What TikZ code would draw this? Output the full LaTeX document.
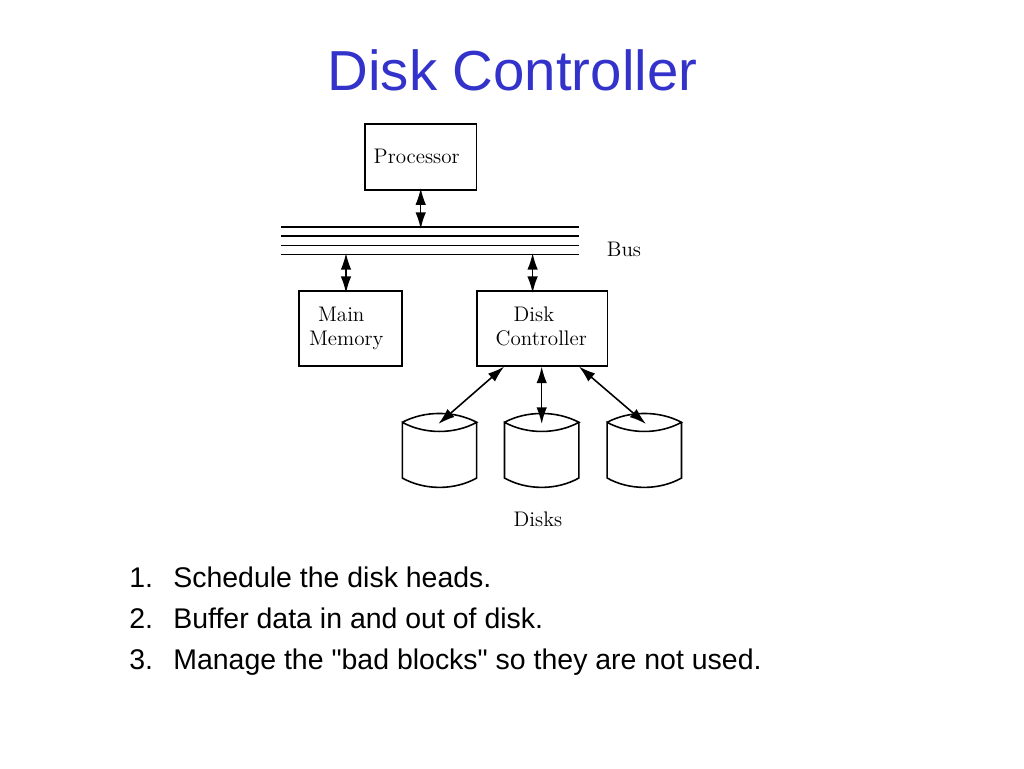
\documentclass[tikz,border=0pt]{standalone}
\usepackage{fontspec}
\usetikzlibrary{arrows.meta}
\newfontfamily\slidefont{Liberation Sans}
\definecolor{titleblue}{RGB}{51,51,204}
\tikzset{
  boxnode/.style={draw,line width=0.9pt,inner xsep=0pt,inner ysep=0pt,align=left,
    font=\fontsize{12}{13.6}\selectfont},
  textlabel/.style={inner sep=0pt,font=\fontsize{12}{13.6}\selectfont},
  itemtext/.style={inner sep=0pt,anchor=base west,font=\slidefont\fontsize{16.2}{18}\selectfont},
  busline/.style={line width=0.9pt},
  dbl/.style={line width=0.9pt,{Latex[length=9.5pt,width=6pt]}-{Latex[length=9.5pt,width=6pt]}},
  overlap/.style={shorten >=-1.5pt}
}
\begin{document}
\begin{tikzpicture}[x=0.02cm,y=0.02cm]
  \useasboundingbox (0,0) rectangle (1024,-768);
  % title
  \node (title) [inner sep=0pt,text=titleblue,font=\slidefont\fontsize{32.1}{36}\selectfont] at (512.5,-70) {Disk Controller};
  % boxes
  \node (proc) [boxnode,text width=2.24cm,minimum height=1.32cm] at (420.7,-157) {\hspace*{0.18cm}\raisebox{1pt}{Processor}};
  \node (mem) [boxnode,text width=2.06cm,minimum height=1.49cm] at (350.5,-328.5) {\hspace*{0.38cm}Main\\\hspace*{0.2cm}Memory};
  \node (ctrl) [boxnode,text width=2.62cm,minimum height=1.49cm] at (542.2,-328.5) {\hspace*{0.74cm}Disk\\\hspace*{0.38cm}Controller\vphantom{y}};
  % bus
  \foreach \n/\y in {a/227,b/236,c/245.3,d/254.7} {
    \coordinate (bus\n w) at (281,-\y);
    \coordinate (bus\n e) at (579,-\y);
    \draw [busline] (bus\n w) -- (bus\n e);
  }
  \node (buslabel) [textlabel] at (624,-249) {Bus};
  \coordinate (tapp) at (420.7,-229);
  \coordinate (tapm) at (346,-253);
  \coordinate (tapc) at (532.6,-253);
  \draw [dbl,shorten <=-1.5pt] (proc.south) -- (tapp);
  \draw [dbl,overlap] (tapm) -- (tapm |- mem.north);
  \draw [dbl,overlap] (tapc) -- (tapc |- ctrl.north);
  % disks
  \foreach \n/\x/\t in {1/439.5/438.3,2/541.7/541.7,3/644.3/646} {
    \coordinate (disk\n) at (\t,-424);
    \draw [line width=0.9pt] (\x-37.2,-422.3) .. controls (\x-15,-410.5) and (\x+15,-410.5) .. (\x+37.2,-422.3)
      .. controls (\x+15,-434.5) and (\x-15,-434.5) .. (\x-37.2,-422.3) -- (\x-37.2,-478)
      .. controls (\x-15,-490.5) and (\x+15,-490.5) .. (\x+37.2,-478) -- (\x+37.2,-422.3);
  }
  \node (disklabel) [textlabel] at (538,-519) {Disks};
  \draw [dbl] (ctrl.225) -- (disk1);
  \draw [dbl] (disk2 |- ctrl.south) -- (disk2);
  \draw [dbl] (ctrl.-46) -- (disk3);
  % list
  \node (num1) [itemtext] at (129,-587) {1.};
  \node (item1) [itemtext] at (173,-587) {Schedule the disk heads.};
  \node (num2) [itemtext] at (129,-628) {2.};
  \node (item2) [itemtext] at (173,-628) {Buffer data in and out of disk.};
  \node (num3) [itemtext] at (129,-669) {3.};
  \node (item3) [itemtext] at (173,-669) {Manage the "bad blocks" so they are not used.};
\end{tikzpicture}
\end{document}
